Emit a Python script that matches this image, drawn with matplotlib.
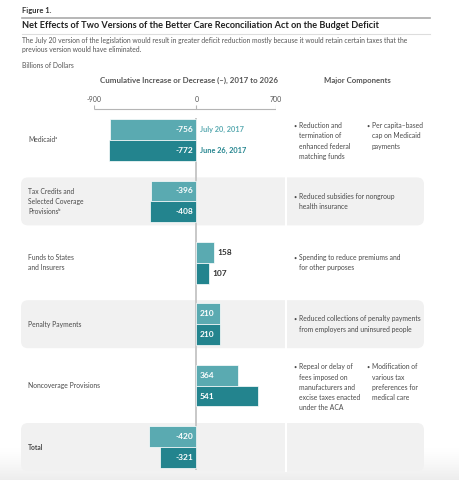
import matplotlib.pyplot as plt
import numpy as np
from matplotlib.patches import FancyBboxPatch

plt.rcParams['font.family'] = ['Lato', 'DejaVu Sans']

# data (billions of dollars)
categories = ['Medicaid', 'Tax Credits', 'Funds to States', 'Penalty Payments',
              'Noncoverage Provisions', 'Total']
cat_labels = ['Medicaidᵃ',
              'Tax Credits and\nSelected Coverage\nProvisionsᵇ',
              'Funds to States\nand Insurers',
              'Penalty Payments',
              'Noncoverage Provisions',
              'Total']
july20 = [-756, -396, 158, 210, 364, -420]
june26 = [-772, -408, 107, 210, 541, -321]
series_names = ['July 20, 2017', 'June 26, 2017']
ticks = [-900, 0, 700]
components = [
    ['Reduction and\ntermination of\nenhanced federal\nmatching funds', 'Per capita–based\ncap on Medicaid\npayments'],
    ['Reduced subsidies for nongroup\nhealth insurance'],
    ['Spending to reduce premiums and\nfor other purposes'],
    ['Reduced collections of penalty payments\nfrom employers and uninsured people'],
    ['Repeal or delay of\nfees imposed on\nmanufacturers and\nexcise taxes enacted\nunder the ACA', 'Modification of\nvarious tax\npreferences for\nmedical care'],
    [],
]
shaded = [False, True, False, True, False, True]

light = '#5aaab1'
dark = '#23848e'
txt = '#4a4a4a'

W, H = 459, 480
fig = plt.figure(figsize=(W / 100, H / 100), dpi=100)

# overlay in pixel coordinates for text and panels
ov = fig.add_axes([0, 0, 1, 1], zorder=0)
ov.set_xlim(0, W)
ov.set_ylim(H, 0)
ov.axis('off')

# row geometry in pixels
row0, step = 140, 61.4

# bottom shadow of the screenshot
g = 1 - 0.07 * np.linspace(0, 1, 60) ** 1.3
ov.imshow(np.repeat(g[:, None], 3, axis=1)[:, None, :].repeat(2, axis=1),
          extent=(0, W, H, 448), aspect='auto', zorder=0)

ov.text(22, 10, 'Figure 1.', fontsize=5.5, fontweight='bold', color='#333', va='center')
ov.plot([22, 430], [17.5, 17.5], color='#aaaaaa', lw=1.2)
ov.text(22, 26, 'Net Effects of Two Versions of the Better Care Reconciliation Act on the Budget Deficit',
        fontsize=6.6, fontweight='bold', color='#222', va='center')
ov.plot([22, 430], [34, 34], color='#dddddd', lw=0.8)
ov.text(22, 45, 'The July 20 version of the legislation would result in greater deficit reduction mostly because it would retain certain taxes that the\n'
        'previous version would have eliminated.', fontsize=4.9, color='#555', va='center', linespacing=1.35)
ov.text(22, 65, 'Billions of Dollars', fontsize=4.9, color='#555', va='center')
ov.text(189, 80, 'Cumulative Increase or Decrease (–), 2017 to 2026', fontsize=5.7, fontweight='bold',
        color='#555', ha='center', va='center')
ov.text(357, 80, 'Major Components', fontsize=5.6, fontweight='bold', color='#555', ha='center', va='center')

for i, lab in enumerate(cat_labels):
    yc = row0 + step * i
    if shaded[i]:
        ov.add_patch(FancyBboxPatch((21, yc - 24), 403, 48, boxstyle='round,pad=0,rounding_size=7',
                                    fc='#f1f1f1', ec='none', zorder=1))
        ov.plot([286, 286], [yc - 24, yc + 24], color='white', lw=1.5, zorder=2)
    ov.text(28, yc, lab, fontsize=4.9, color=txt, va='center', linespacing=1.55,
            fontweight='bold' if categories[i] == 'Total' else 'normal', zorder=3)
    comps = components[i]
    for j, c in enumerate(comps):
        xb = 293 if j == 0 else 366
        nlines = max(len(s.split('\n')) for s in comps)
        ytop = yc - 4.5 * (nlines - 1) if len(comps) > 1 else yc - 4.5 * (len(c.split('\n')) - 1)
        ov.text(xb, ytop, '•', fontsize=4, color=txt, va='center', zorder=3)
        ov.text(xb + 6, ytop - 4.4, c, fontsize=4.9, color=txt, va='top', linespacing=1.55, zorder=3)

# bar axes: x maps -900 -> px 94, 700 -> px 276
ax = fig.add_axes([94 / W, 0, 182 / W, 1], zorder=2)
ax.patch.set_alpha(0)
ax.axis('off')
ax.set_xlim(ticks[0], ticks[-1])
ax.set_ylim((H - row0) / step, -row0 / step)

idx = np.arange(len(categories))
bh = 0.34
ax.barh(idx - bh / 2, july20, height=bh, color=light, edgecolor='white', linewidth=0.5)
ax.barh(idx + bh / 2, june26, height=bh, color=dark, edgecolor='white', linewidth=0.5)

ax.vlines(0, -0.36, 5.37, color='#c4c4c4', lw=1.3, zorder=0.5)

# axis with ticks
ya = (108.5 - row0) / step
ax.hlines(ya, ticks[0], ticks[-1], color='#b5b5b5', lw=0.8)
ax.vlines(ticks, ya, ya - 0.05, color='#b5b5b5', lw=0.8)
for t in ticks:
    ax.text(t, (100 - row0) / step, str(t), fontsize=5, color='#555', ha='center', va='center')

px = 1600 / 182  # data units per pixel
for series, off in ((july20, -bh / 2), (june26, bh / 2)):
    for i, v in enumerate(series):
        y = idx[i] + off
        if v < 0:
            ax.text(-3 * px, y, str(v), color='white', fontsize=6, fontweight='bold',
                    ha='right', va='center')
        elif v >= 180:
            ax.text(3.5 * px, y, str(v), color='white', fontsize=6, fontweight='bold', ha='left', va='center')
        else:
            ax.text(v + 3.5 * px, y, str(v), color='#333', fontsize=6, fontweight='bold', ha='left', va='center')

ax.text(4 * px, -bh / 2, series_names[0], color=light, fontsize=5.3, fontweight='bold', va='center')
ax.text(4 * px, bh / 2, series_names[1], color=dark, fontsize=5.3, fontweight='bold', va='center')

fig.savefig('out.png', dpi=100)
